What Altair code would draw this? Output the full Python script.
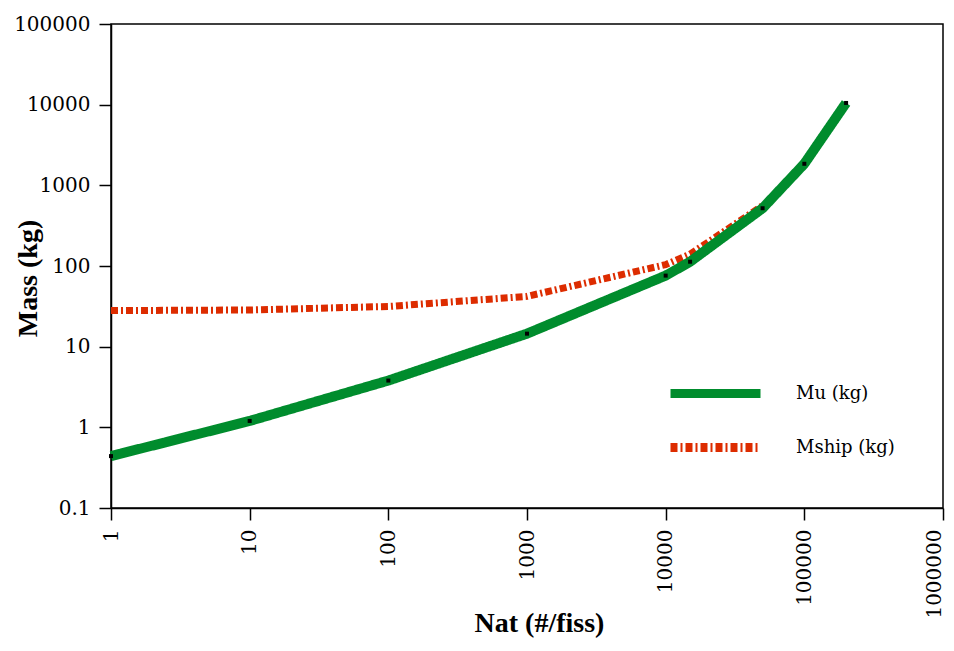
import altair as alt
import pandas as pd

# Data
nat_mu = [1, 10, 100, 1000, 10000, 15000, 50000, 100000, 200000]
mu_kg = [0.44, 1.2, 3.8, 14.5, 76, 113, 520, 1850, 10500]
nat_ship = [1, 10, 100, 1000, 10000, 15000, 50000]
mship_kg = [28, 28.5, 31.5, 42, 104, 140, 560]
series_names = ["Mu (kg)", "Mship (kg)"]
x_ticks = [1, 10, 100, 1000, 10000, 100000, 1000000]
y_ticks = [0.1, 1, 10, 100, 1000, 10000, 100000]

GREEN = "#008C2D"
RED = "#DD2C00"

df_mu = pd.DataFrame({"Nat": nat_mu, "Mass": mu_kg, "series": series_names[0]})
df_ship = pd.DataFrame({"Nat": nat_ship, "Mass": mship_kg, "series": series_names[1]})

x_enc = alt.X(
    "Nat:Q",
    scale=alt.Scale(type="log", domain=[1, 1000000], nice=False),
    axis=alt.Axis(
        values=x_ticks, format="~r", labelAngle=270, title="Nat (#/fiss)",
        labelPadding=9, titleX=428, titleY=123, titleBaseline="alphabetic",
        titleAlign="center",
        labelOffset=alt.ExprRef("datum.value >= 1000000 ? -9 : 0"),
    ),
)
y_enc = alt.Y(
    "Mass:Q",
    scale=alt.Scale(type="log", domain=[0.1, 100000], nice=False),
    axis=alt.Axis(
        values=y_ticks, format="~r", title="Mass (kg)", labelPadding=9,
        titleX=-75, titleY=254, titleAngle=270, titleBaseline="alphabetic",
        titleAlign="center",
    ),
)

legend = alt.Legend(
    orient="none", legendX=591, legendY=356, title=None,
    symbolType="M-5,0H5", symbolSize=324, symbolStrokeWidth=9,
    labelOffset=67, rowPadding=17, labelFont="DejaVu Serif",
    labelFontSize=18, labelColor="black", padding=0,
)
color_enc = alt.Color(
    "series:N",
    scale=alt.Scale(domain=series_names, range=[GREEN, RED]),
    legend=legend,
)
dash_enc = alt.StrokeDash(
    "series:N",
    scale=alt.Scale(domain=series_names, range=[[1, 0], [7, 3, 2, 3]]),
    legend=legend,
)

ship_line = alt.Chart(df_ship).mark_line(strokeWidth=7).encode(
    x=x_enc, y=y_enc, color=color_enc, strokeDash=dash_enc
)
mu_line = alt.Chart(df_mu).mark_line(strokeWidth=10, strokeJoin="round").encode(
    x=x_enc, y=y_enc, color=color_enc, strokeDash=dash_enc
)
mu_pts = alt.Chart(df_mu).mark_square(size=16, color="black", opacity=1).encode(
    x=x_enc, y=y_enc
)

chart = (
    alt.layer(ship_line, mu_line, mu_pts)
    .properties(
        width=832, height=484,
        autosize=alt.AutoSizeParams(type="none"),
        padding={"left": 103, "top": 16, "right": 3, "bottom": 130},
        background="white",
    )
    .configure_view(stroke="black", strokeWidth=1.5)
    .configure_axis(
        grid=False, domainColor="black", domainWidth=1.5,
        tickColor="black", tickWidth=1.5, tickSize=12,
        labelFont="DejaVu Serif", labelFontSize=20, labelColor="black",
        titleFont="Liberation Serif", titleFontSize=28, titleFontWeight="bold",
        titleColor="black",
    )
)

chart.save("out.html", embed_options={"renderer": "svg", "actions": False})
